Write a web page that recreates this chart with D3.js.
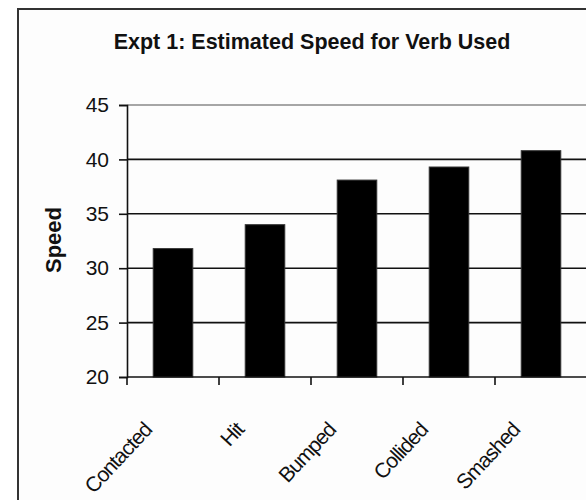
<!DOCTYPE html>
<html>
<head>
<meta charset="utf-8">
<script src="https://cdn.jsdelivr.net/npm/d3@7"></script>
<style>
  body { margin: 0; background: #fff; }
  svg { display: block; }
  text { font-family: Arial, "Liberation Sans", sans-serif; fill: #111; }
</style>
</head>
<body>
<script>
var width = 586,
    height = 500;

// donnees
var verbs = ["Contacted", "Hit", "Bumped", "Collided", "Smashed"];
var speeds = [31.8, 34.0, 38.1, 39.3, 40.8];
var yTicks = [20, 25, 30, 35, 40, 45];
var title = "Expt 1: Estimated Speed for Verb Used";
var yLabel = "Speed";

var svg = d3
    .select("body")
    .append("svg")
    .attr("width", width)
    .attr("height", height);

// cadre du graphique (coupe a droite et en bas)
svg.append("rect")
    .attr("x", 18)
    .attr("y", 9)
    .attr("width", 700)
    .attr("height", 600)
    .attr("fill", "#fdfdfd")
    .attr("stroke", "#333")
    .attr("stroke-width", 2);

var x = d3.scaleBand()
    .domain(verbs)
    .range([127, 587])
    .paddingInner(0.57)
    .paddingOuter(0.285);

var y = d3.scaleLinear()
    .domain([20, 45])
    .range([377, 105]);

var g = svg.append("g");

// lignes de grille
g.selectAll("line.grid")
    .data(yTicks.filter(d => d > 20))
    .join("line")
    .attr("class", "grid")
    .attr("x1", 127)
    .attr("x2", width)
    .attr("y1", d => y(d))
    .attr("y2", d => y(d))
    .attr("stroke", d => d == 45 ? "#888" : "#111")
    .attr("stroke-width", 1.6);

// barres
g.selectAll("rect.bar")
    .data(speeds)
    .join("rect")
    .attr("class", "bar")
    .attr("x", (d, i) => x(verbs[i]))
    .attr("width", x.bandwidth())
    .attr("y", d => y(d))
    .attr("height", d => y(20) - y(d))
    .attr("fill", "#000")
    .attr("stroke", "#333")
    .attr("stroke-width", 1);

// axe y
var yAxis = svg.append("g")
    .attr("transform", "translate(127,0)")
    .call(d3.axisLeft(y).tickValues(yTicks).tickSize(8).tickPadding(10));
yAxis.select(".domain").attr("stroke", "#111").attr("stroke-width", 1.6);
yAxis.selectAll(".tick line").attr("stroke", "#111").attr("stroke-width", 1.6);
yAxis.selectAll(".tick text")
    .style("font-size", "21px")
    .style("font-family", "Arial, 'Liberation Sans', sans-serif")
    .attr("fill", "#222");

// axe x : traits entre les categories
var step = x.step();
svg.append("line")
    .attr("x1", 127).attr("x2", width)
    .attr("y1", y(20)).attr("y2", y(20))
    .attr("stroke", "#111").attr("stroke-width", 1.6);
svg.selectAll("line.xtick")
    .data(d3.range(verbs.length + 1))
    .join("line")
    .attr("class", "xtick")
    .attr("x1", i => 127 + i * step)
    .attr("x2", i => 127 + i * step)
    .attr("y1", y(20))
    .attr("y2", y(20) + 8)
    .attr("stroke", "#111")
    .attr("stroke-width", 1.6);

// etiquettes des categories, inclinees
svg.selectAll("text.cat")
    .data(verbs)
    .join("text")
    .attr("class", "cat")
    .attr("text-anchor", "end")
    .attr("transform", d => "translate(" + (x(d) + x.bandwidth() / 2 - 20) + "," + 431 + ") rotate(-47)")
    .style("font-size", "21px")
    .style("letter-spacing", "-1px")
    .text(d => d);

// titre
svg.append("text")
    .attr("x", 312)
    .attr("y", 49)
    .attr("text-anchor", "middle")
    .style("font-size", "21.5px")
    .style("font-weight", "bold")
    .text(title);

// titre axe y
svg.append("text")
    .attr("transform", "translate(61,240) rotate(-90)")
    .attr("text-anchor", "middle")
    .style("font-size", "22px")
    .style("font-weight", "bold")
    .text(yLabel);
</script>
</body>
</html>
